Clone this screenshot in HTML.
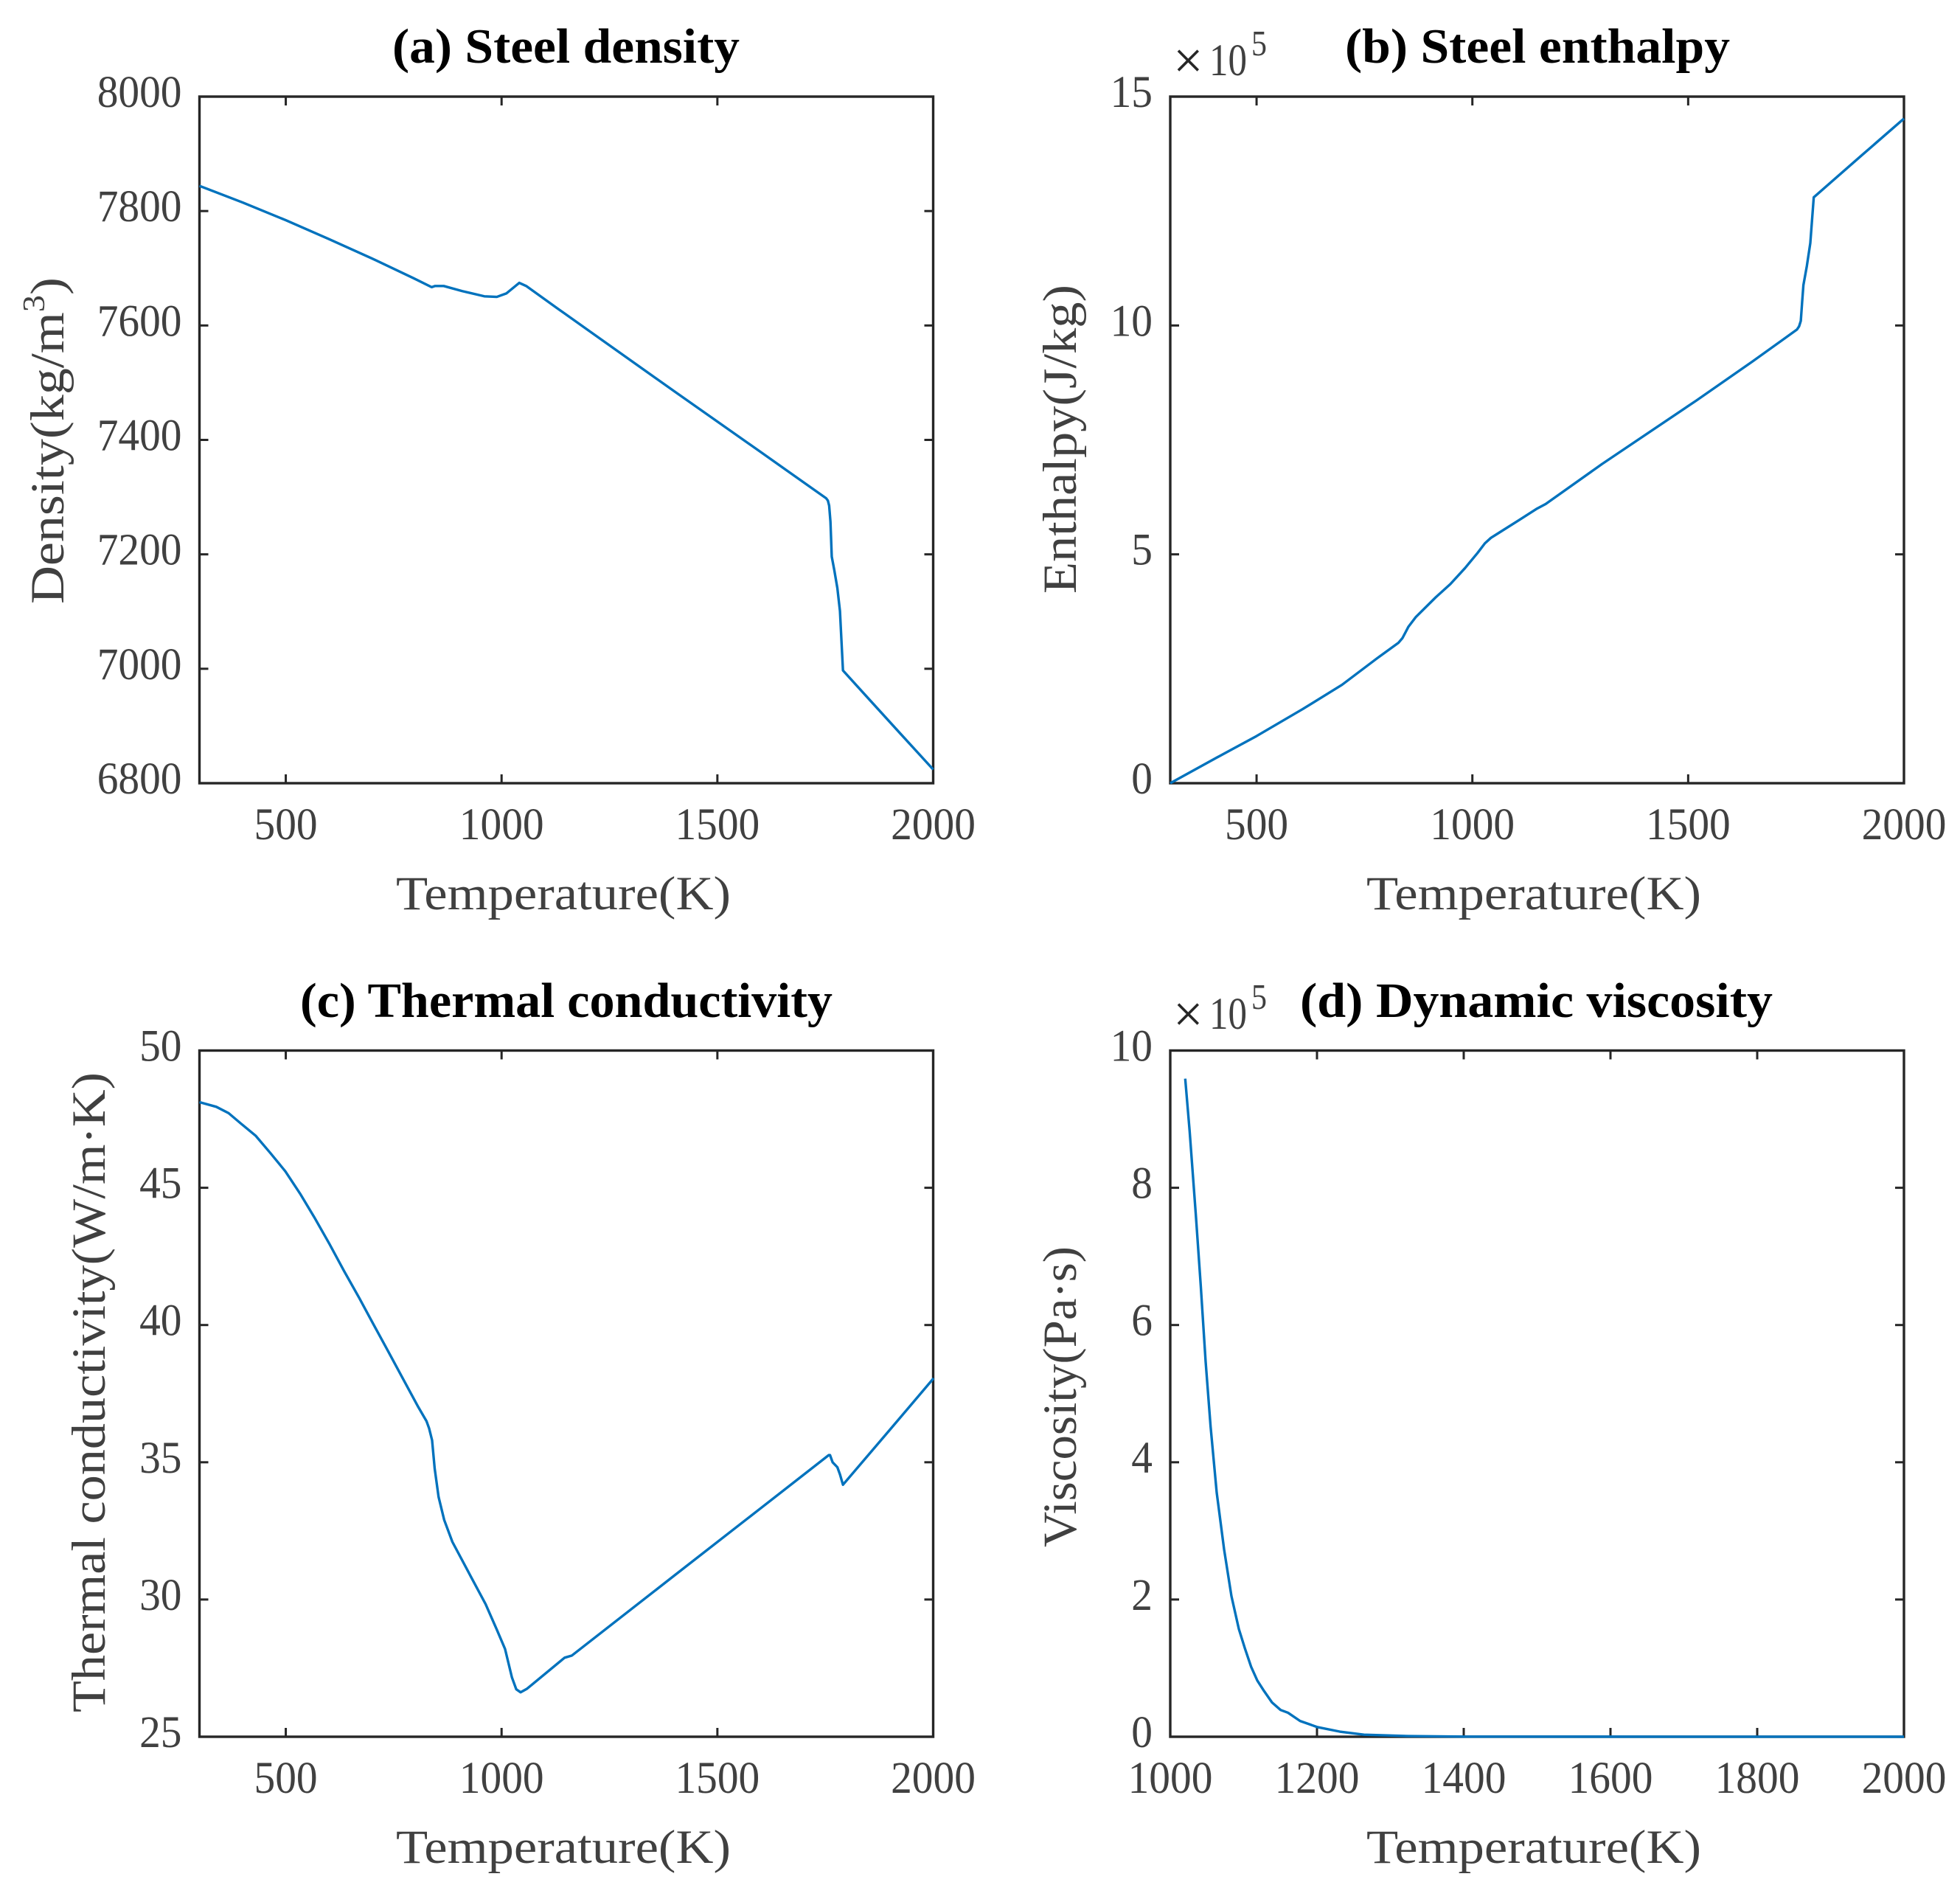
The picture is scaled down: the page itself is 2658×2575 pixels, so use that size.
<!DOCTYPE html>
<html lang="en">
<head>
<meta charset="utf-8">
<title>Steel thermophysical properties</title>
<style>
html,body{margin:0;padding:0;background:#fff;width:2658px;height:2575px;overflow:hidden}
svg{display:block}
text{font-family:"Liberation Serif",serif}
.lab{fill:#404040;font-size:65px}
.ttl{fill:#000;font-size:67px;font-weight:bold}
.tick{fill:#404040;font-size:61px}
.exp{fill:#404040}
</style>
</head>
<body>
<svg id="figure" xmlns="http://www.w3.org/2000/svg" width="2658" height="2575" viewBox="0 0 2658 2575">
  <rect x="0" y="0" width="2658" height="2575" fill="#ffffff"/>

  <g id="panel-a"></g>
  <g id="panel-b"></g>
  <g id="panel-c"></g>
  <g id="panel-d"></g>

  <text class="ttl" x="532" y="85" textLength="471" lengthAdjust="spacingAndGlyphs">(a) Steel density</text>
  <text class="ttl" x="1824" y="85" textLength="522" lengthAdjust="spacingAndGlyphs">(b) Steel enthalpy</text>
  <text class="ttl" x="407" y="1379" textLength="722" lengthAdjust="spacingAndGlyphs">(c) Thermal conductivity</text>
  <text class="ttl" x="1763" y="1379" textLength="641" lengthAdjust="spacingAndGlyphs">(d) Dynamic viscosity</text>

  <text class="lab" x="537" y="1233" textLength="454" lengthAdjust="spacingAndGlyphs">Temperature(K)</text>
  <text class="lab" x="1853" y="1233" textLength="454" lengthAdjust="spacingAndGlyphs">Temperature(K)</text>
  <text class="lab" x="537" y="2526" textLength="454" lengthAdjust="spacingAndGlyphs">Temperature(K)</text>
  <text class="lab" x="1853" y="2526" textLength="454" lengthAdjust="spacingAndGlyphs">Temperature(K)</text>

  <text class="lab" transform="translate(86,819) rotate(-90)" x="0" y="0" textLength="443" lengthAdjust="spacingAndGlyphs">Density(kg/m<tspan font-size="42" dy="-26">3</tspan><tspan dy="26">)</tspan></text>
  <text class="lab" transform="translate(1459,805) rotate(-90)" x="0" y="0" textLength="419" lengthAdjust="spacingAndGlyphs">Enthalpy(J/kg)</text>
  <text class="lab" transform="translate(142,2322) rotate(-90)" x="0" y="0" textLength="868" lengthAdjust="spacingAndGlyphs">Thermal conductivity(W/m·K)</text>
  <text class="lab" transform="translate(1459,2098) rotate(-90)" x="0" y="0" textLength="408" lengthAdjust="spacingAndGlyphs">Viscosity(Pa·s)</text>

  <text x="1591" y="106" font-size="72" fill="#262626">×</text>
  <text class="exp" x="1640" y="102" font-size="61" textLength="51" lengthAdjust="spacingAndGlyphs">10</text>
  <text class="exp" x="1697" y="75" font-size="49" textLength="21" lengthAdjust="spacingAndGlyphs">5</text>
  <text x="1591" y="1399" font-size="72" fill="#262626">×</text>
  <text class="exp" x="1640" y="1395" font-size="61" textLength="51" lengthAdjust="spacingAndGlyphs">10</text>
  <text class="exp" x="1697" y="1368" font-size="49" textLength="21" lengthAdjust="spacingAndGlyphs">5</text>
</svg>

<script>
// Panel (a) steel density
const densityTemps = [300,400,500,600,700,795,838,846,866,909,960,989,1011,1029,1041,1057,1131,1200,1400,1600,1752,1756,1759,1762,1765,1771,1778,1784,1791,1850,1920,2000];
const densityValues = [7844,7815,7784,7751,7717,7683,7667,7669,7669,7660,7651,7650,7656,7667,7674.5,7669,7629,7592,7485,7379,7298,7294,7285,7257,7196,7172,7141,7101,6997,6948,6890,6824];
const densityXTicks = [500,1000,1500,2000];
const densityYTicks = [6800,7000,7200,7400,7600,7800,8000];

// Panel (b) steel enthalpy, in units of 10^5 J/kg
const enthalpyTemps = [300,402,500,607,698,778,829,838,852,869,915,949,983,1012,1029,1043,1107,1150,1170,1300,1519,1650,1752,1757,1761,1764,1767,1775,1783,1791,1900,2000];
const enthalpyValues = [0,0.53,1.03,1.62,2.15,2.72,3.07,3.17,3.42,3.63,4.06,4.35,4.7,5.03,5.24,5.36,5.74,6.0,6.1,6.97,8.36,9.22,9.91,9.98,10.1,10.5,10.88,11.3,11.8,12.8,13.7,14.52];
const enthalpyXTicks = [500,1000,1500,2000];
const enthalpyYTicks = [0,5,10,15];

// Panel (c) thermal conductivity
const conductivityTemps = [300,339,367.5,396,430,464,499,533,567,601,635,670,704,738,772,806,826,832,839,845,854,867,886,928,963,989,1008,1024,1034,1044,1059,1146,1163,1400,1600,1758,1761,1767,1778,1784,1791,1900,2001];
const conductivityValues = [48.12,47.95,47.72,47.34,46.9,46.27,45.6,44.79,43.9,42.96,41.97,40.99,40.0,39.02,38.03,37.04,36.5,36.24,35.8,34.77,33.74,32.9,32.1,30.86,29.83,28.9,28.2,27.16,26.73,26.62,26.75,27.88,27.96,30.87,33.32,35.26,35.26,35.0,34.82,34.56,34.18,36.19,38.06];
const conductivityXTicks = [500,1000,1500,2000];
const conductivityYTicks = [25,30,35,40,45,50];

// Panel (d) dynamic viscosity, in units of 10^5 Pa.s
const viscosityTemps = [1020.4,1026.4,1034.9,1041.6,1048.2,1055,1063.3,1073.4,1083.4,1093.5,1101.7,1110.2,1118.6,1127,1138.7,1150.4,1160.5,1177,1200.7,1231,1264,1325,1400,2000];
const viscosityValues = [9.59,8.83,7.6,6.57,5.47,4.52,3.56,2.73,2.05,1.57,1.29,1.02,0.82,0.68,0.5,0.39,0.35,0.23,0.14,0.075,0.03,0.01,0.002,0];
const viscosityXTicks = [1000,1200,1400,1600,1800,2000];
const viscosityYTicks = [0,2,4,6,8,10];

const SVG_NS = 'http://www.w3.org/2000/svg';
const DIGIT_WIDTH = 28.7;

function addLine(parent, x1, y1, x2, y2) {
  const el = document.createElementNS(SVG_NS, 'line');
  el.setAttribute('x1', x1);
  el.setAttribute('y1', y1);
  el.setAttribute('x2', x2);
  el.setAttribute('y2', y2);
  el.setAttribute('stroke', '#262626');
  el.setAttribute('stroke-width', '3');
  parent.appendChild(el);
  return el;
}

function addTickLabel(parent, label, x, y) {
  const el = document.createElementNS(SVG_NS, 'text');
  const text = String(label);
  el.setAttribute('class', 'tick');
  el.setAttribute('x', x);
  el.setAttribute('y', y);
  el.setAttribute('textLength', text.length * DIGIT_WIDTH);
  el.setAttribute('lengthAdjust', 'spacingAndGlyphs');
  el.textContent = text;
  parent.appendChild(el);
  return el;
}

function drawPanel(panelId, box, xDomain, yDomain, xTicks, yTicks, temps, values) {
  const parent = document.getElementById(panelId);
  const xScale = function (v) { return box.left + (v - xDomain[0]) / (xDomain[1] - xDomain[0]) * (box.right - box.left); };
  const yScale = function (v) { return box.bottom - (v - yDomain[0]) / (yDomain[1] - yDomain[0]) * (box.bottom - box.top); };

  const frame = document.createElementNS(SVG_NS, 'rect');
  frame.setAttribute('x', box.left);
  frame.setAttribute('y', box.top);
  frame.setAttribute('width', box.right - box.left);
  frame.setAttribute('height', box.bottom - box.top);
  frame.setAttribute('fill', 'none');
  frame.setAttribute('stroke', '#262626');
  frame.setAttribute('stroke-width', '3.4');
  
  
  parent.appendChild(frame);

  xTicks.forEach(function (t) {
    const x = xScale(t);
    const bottomTick = addLine(parent, x, box.bottom, x, box.bottom - 12);
    
    
    const topTick = addLine(parent, x, box.top, x, box.top + 12);
    
    
    const width = String(t).length * DIGIT_WIDTH;
    const label = addTickLabel(parent, t, x - width / 2, box.bottom + 76);
    
    
  });

  yTicks.forEach(function (t) {
    const y = yScale(t);
    const leftTick = addLine(parent, box.left, y, box.left + 12, y);
    
    
    const rightTick = addLine(parent, box.right, y, box.right - 12, y);
    
    
    const width = String(t).length * DIGIT_WIDTH;
    const label = addTickLabel(parent, t, box.left - 24 - width, y + 14);
    
    
  });

  const line = document.createElementNS(SVG_NS, 'path');
  const d = temps.map(function (t, i) {
    return (i === 0 ? 'M' : 'L') + xScale(t).toFixed(2) + ' ' + yScale(values[i]).toFixed(2);
  }).join(' ');
  line.setAttribute('d', d);
  line.setAttribute('fill', 'none');
  line.setAttribute('stroke', '#0072BD');
  line.setAttribute('stroke-width', '3.4');
  line.setAttribute('stroke-linejoin', 'round');
  
  
  parent.appendChild(line);
}

drawPanel('panel-a', {left: 270.5, right: 1265.5, top: 131, bottom: 1062}, [300, 2000], [6800, 8000], densityXTicks, densityYTicks, densityTemps, densityValues);
drawPanel('panel-b', {left: 1587, right: 2582, top: 131, bottom: 1062}, [300, 2000], [0, 15], enthalpyXTicks, enthalpyYTicks, enthalpyTemps, enthalpyValues);
drawPanel('panel-c', {left: 270.5, right: 1265.5, top: 1424.5, bottom: 2355}, [300, 2000], [25, 50], conductivityXTicks, conductivityYTicks, conductivityTemps, conductivityValues);
drawPanel('panel-d', {left: 1587, right: 2582, top: 1424.5, bottom: 2355}, [1000, 2000], [0, 10], viscosityXTicks, viscosityYTicks, viscosityTemps, viscosityValues);
</script>
</body>
</html>
